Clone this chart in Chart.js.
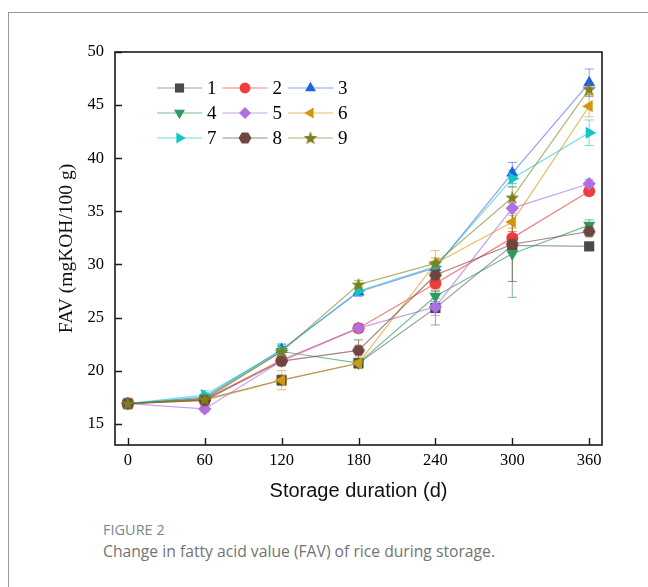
<!DOCTYPE html>
<html>
<head>
<meta charset="utf-8">
<script src="https://cdn.jsdelivr.net/npm/chart.js@4.4.1/dist/chart.umd.min.js"></script>
<style>
  body { margin: 0; background: #fff; width: 648px; height: 587px; overflow: hidden; position: relative; font-family: "Open Sans", sans-serif; }
  #frame { position: absolute; left: 8px; top: 12px; width: 700px; height: 700px; border-left: 1px solid #9a9a9a; border-top: 1px solid #9a9a9a; }
  #wrap { position: absolute; left: 0; top: 0; width: 648px; height: 515px; }
  .fig { position: absolute; left: 103px; top: 520px; font-size: 14.5px; color: #858585; }
  .cap { position: absolute; left: 103px; top: 540px; font-size: 15.7px; color: #737373; }
</style>
</head>
<body>
<div id="frame"></div>
<div id="wrap"><canvas id="fav" width="648" height="515"></canvas></div>
<div class="fig">FIGURE 2</div>
<div class="cap">Change in fatty acid value (FAV) of rice during storage.</div>

<script>
  // Storage days (x) and FAV values
  const days = [0, 60, 120, 180, 240, 300, 360];
  const xTicks = [0, 60, 120, 180, 240, 300, 360];
  const yTicks = [15, 20, 25, 30, 35, 40, 45, 50];
  const seriesNames = ['1', '2', '3', '4', '5', '6', '7', '8', '9'];

  const fav1 = [16.9, 17.3, 19.1, 20.7, 25.9, 31.8, 31.7];
  const fav2 = [16.9, 17.3, 21.0, 24.0, 28.2, 32.5, 36.9];
  const fav3 = [16.9, 17.5, 22.0, 27.4, 29.7, 38.6, 47.1];
  const fav4 = [16.9, 17.4, 21.8, 20.7, 27.0, 31.0, 33.7];
  const fav5 = [16.9, 16.4, 20.9, 24.0, 26.0, 35.3, 37.6];
  const fav6 = [16.9, 17.2, 19.1, 20.7, 30.1, 34.0, 44.9];
  const fav7 = [16.9, 17.7, 21.9, 27.5, 29.8, 38.1, 42.4];
  const fav8 = [16.9, 17.2, 20.9, 21.9, 29.0, 31.9, 33.1];
  const fav9 = [16.9, 17.3, 21.8, 28.1, 30.1, 36.3, 46.5];

  // error bar half-widths
  const err1 = [0.3, 0.3, 0.5, 0.4, 1.6, 0.4, 0.3];
  const err2 = [0.3, 0.3, 0.4, 0.4, 0.5, 0.6, 0.4];
  const err3 = [0.3, 0.3, 0.5, 0.4, 0.4, 1.0, 1.3];
  const err4 = [0.3, 0.3, 0.5, 0.4, 0.5, 4.1, 0.5];
  const err5 = [0.3, 0.3, 0.4, 0.4, 0.8, 0.5, 0.4];
  const err6 = [0.3, 0.3, 0.9, 0.5, 1.2, 0.6, 1.0];
  const err7 = [0.3, 0.4, 0.6, 0.4, 0.4, 0.8, 1.2];
  const err8 = [0.3, 0.3, 0.4, 1.0, 0.5, 3.5, 0.4];
  const err9 = [0.3, 0.3, 0.5, 0.4, 0.5, 1.0, 0.5];

  const favs = [fav1, fav2, fav3, fav4, fav5, fav6, fav7, fav8, fav9];
  const errs = [err1, err2, err3, err4, err5, err6, err7, err8, err9];

  const markerColors = ['#4a4a4a', '#f03c3c', '#1f62e0', '#2e9a5c', '#b070e0', '#d4960a', '#12c6c6', '#6e463e', '#80801a'];
  const lineColors = ['rgba(110,110,110,0.65)', 'rgba(240,60,60,0.65)', 'rgba(60,100,230,0.6)', 'rgba(46,154,92,0.65)',
    'rgba(176,112,224,0.65)', 'rgba(212,150,10,0.6)', 'rgba(18,198,198,0.6)', 'rgba(110,70,62,0.65)', 'rgba(128,128,26,0.6)'];

  function makeMarker(size, draw) {
    const c = document.createElement('canvas');
    c.width = size; c.height = size;
    draw(c.getContext('2d'), size / 2);
    return c;
  }
  const hexagon = makeMarker(14, (g, c) => {
    g.fillStyle = markerColors[7];
    g.beginPath();
    for (let i = 0; i < 6; i++) {
      const a = Math.PI / 6 + i * Math.PI / 3 - Math.PI / 2;
      g.lineTo(c + 6.4 * Math.cos(a), c + 6.4 * Math.sin(a));
    }
    g.closePath(); g.fill();
  });
  const star = makeMarker(16, (g, c) => {
    g.fillStyle = markerColors[8];
    g.beginPath();
    for (let i = 0; i < 10; i++) {
      const r = i % 2 ? 3 : 7.2;
      const a = -Math.PI / 2 + i * Math.PI / 5;
      g.lineTo(c + r * Math.cos(a), c + 0.5 + r * Math.sin(a));
    }
    g.closePath(); g.fill();
  });

  const pointStyles = ['rect', 'circle', 'triangle', 'triangle', 'rectRot', 'triangle', 'triangle', hexagon, star];
  const rotations = [0, 0, 0, 180, 0, 270, 90, 0, 0];
  const radii = [7.2, 6, 7, 7, 6.7, 7, 7, 6, 6];

  const datasets = favs.map((vals, i) => ({
    label: seriesNames[i],
    data: days.map((d, j) => ({ x: d, y: vals[j] })),
    borderColor: lineColors[i],
    backgroundColor: markerColors[i],
    borderWidth: 1.2,
    pointStyle: pointStyles[i],
    pointRotation: rotations[i],
    pointRadius: radii[i],
    pointBorderWidth: 0,
    pointBackgroundColor: markerColors[i],
    tension: 0,
    order: 9 - i
  }));

  // error bars under the markers
  const errorBars = {
    id: 'errorBars',
    beforeDatasetsDraw(chart) {
      const { ctx, scales: { x, y } } = chart;
      ctx.save();
      ctx.lineWidth = 1;
      errs.forEach((e, i) => {
        ctx.strokeStyle = lineColors[i];
        days.forEach((d, j) => {
          const px = x.getPixelForValue(d);
          const top = y.getPixelForValue(favs[i][j] + e[j]);
          const bot = y.getPixelForValue(favs[i][j] - e[j]);
          ctx.beginPath();
          ctx.moveTo(px, top); ctx.lineTo(px, bot);
          ctx.moveTo(px - 4.5, top); ctx.lineTo(px + 4.5, top);
          ctx.moveTo(px - 4.5, bot); ctx.lineTo(px + 4.5, bot);
          ctx.stroke();
        });
      });
      ctx.restore();
    }
  };

  // frame box, inward ticks and the 3x3 legend
  const frameAndLegend = {
    id: 'frameAndLegend',
    afterDraw(chart) {
      const { ctx, chartArea: a, scales: { x, y } } = chart;
      ctx.save();
      ctx.strokeStyle = '#1a1a1a';
      ctx.lineWidth = 1.6;
      ctx.strokeRect(a.left, a.top, a.right - a.left, a.bottom - a.top);
      ctx.lineWidth = 1.4;
      ctx.beginPath();
      xTicks.forEach(v => {
        const px = Math.round(x.getPixelForValue(v)) + 0.5;
        ctx.moveTo(px, a.bottom); ctx.lineTo(px, a.bottom - 7);
      });
      yTicks.forEach(v => {
        const py = Math.round(y.getPixelForValue(v)) + 0.5;
        ctx.moveTo(a.left, py); ctx.lineTo(a.left + 7, py);
      });
      ctx.stroke();

      ctx.font = '19px "Liberation Serif"';
      ctx.textBaseline = 'middle';
      datasets.forEach((ds, i) => {
        const col = i % 3, row = Math.floor(i / 3);
        const x0 = a.left + 42 + col * 65.5;
        const yy = a.top + 36 + row * 25;
        ctx.strokeStyle = lineColors[i];
        ctx.lineWidth = 1.2;
        ctx.beginPath();
        ctx.moveTo(x0, yy); ctx.lineTo(x0 + 45, yy);
        ctx.stroke();
        ctx.fillStyle = markerColors[i];
        ctx.strokeStyle = markerColors[i];
        Chart.helpers.drawPoint(ctx, {
          pointStyle: pointStyles[i], rotation: rotations[i], radius: radii[i] * 0.9, borderWidth: 0
        }, x0 + 22.5, yy);
        ctx.fillStyle = '#000';
        ctx.fillText(seriesNames[i], x0 + 50, yy + 1);
      });
      ctx.restore();
    }
  };

  new Chart(document.getElementById('fav'), {
    type: 'line',
    data: { datasets },
    plugins: [errorBars, frameAndLegend],
    options: {
      responsive: false,
      animation: false,
      layout: { padding: { left: 40, top: 52, right: 46, bottom: 0 } },
      plugins: { legend: { display: false }, tooltip: { enabled: false } },
      scales: {
        x: {
          type: 'linear',
          min: -10, max: 370,
          afterBuildTicks: s => { s.ticks = xTicks.map(v => ({ value: v })); },
          afterFit: s => { s.height = 70; },
          grid: { display: false, drawTicks: false },
          border: { display: false },
          ticks: { color: '#000', padding: 6, font: { family: 'Liberation Serif', size: 16.5 } },
          title: { display: true, text: 'Storage duration (d)', color: '#111',
            font: { family: 'Liberation Sans', size: 20 }, padding: { top: 0, bottom: 12 } }
        },
        y: {
          min: 13, max: 50,
          afterBuildTicks: s => { s.ticks = yTicks.map(v => ({ value: v })); },
          afterFit: s => { s.width = 75; },
          grid: { display: false, drawTicks: false },
          border: { display: false },
          ticks: { color: '#000', padding: 11, font: { family: 'Liberation Serif', size: 16.5 } },
          title: { display: true, text: 'FAV (mgKOH/100 g)', color: '#111',
            font: { family: 'Liberation Serif', size: 19.5 }, padding: { top: 15, bottom: 0 } }
        }
      }
    }
  });
</script>
</body>
</html>
